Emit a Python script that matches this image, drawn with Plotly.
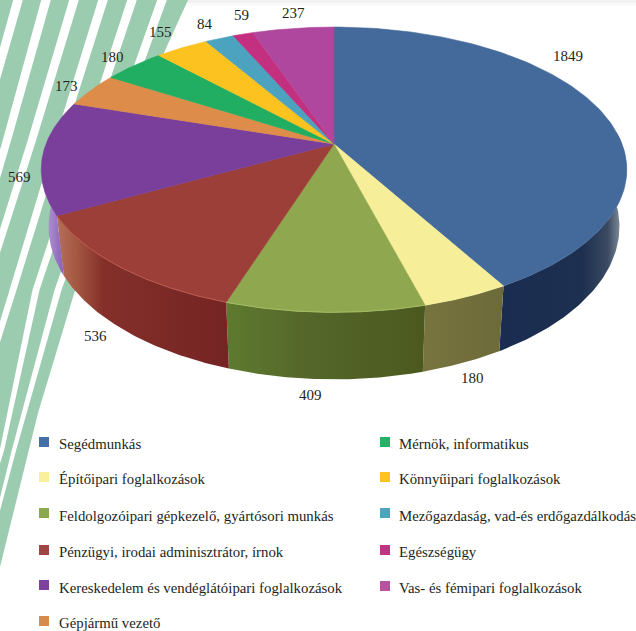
import numpy as np
import plotly.graph_objects as go

# values of the slices, clockwise from the top
categories = ["Segédmunkás", "Építőipari foglalkozások",
              "Feldolgozóipari gépkezelő, gyártósori munkás",
              "Pénzügyi, irodai adminisztrátor, írnok",
              "Kereskedelem és vendéglátóipari foglalkozások",
              "Gépjármű vezető", "Mérnök, informatikus",
              "Könnyűipari foglalkozások",
              "Mezőgazdaság, vad-és erdőgazdálkodás",
              "Egészségügy", "Vas- és fémipari foglalkozások"]
values = [1849, 180, 409, 536, 569, 173, 180, 155, 84, 59, 237]

top_colors = ["#44699b", "#f6ee98", "#8fa850", "#9c3f38", "#7a3f9b", "#dd8c4a",
              "#22ae62", "#fbc220", "#4ba3c0", "#c2307f", "#b0479e"]
legend_colors = ["#4470a6", "#f8f09a", "#8aa84e", "#a04444", "#7d429c", "#d68b4c",
                 "#25b266", "#fcc41f", "#4fa3bb", "#c03583", "#b3559f"]

# horizontal shading of the outer wall of the slices that face the viewer
wall_shades = {
    0: [[0, "#1a2c50"], [0.65, "#1e3050"], [0.85, "#3a4a62"], [0.95, "#7f8c98"], [1, "#c0c8cc"]],
    1: [[0, "#78743f"], [1, "#6d6a3a"]],
    2: [[0, "#5e7a2f"], [0.4, "#55672a"], [1, "#4b591f"]],
    3: [[0, "#b4705c"], [0.12, "#a45640"], [0.27, "#842f2a"], [1, "#742423"]],
    4: [[0, "#bba5da"], [0.5, "#a283c8"], [1, "#8b5eb8"]],
}
rim_colors = {2: "#a3bb62", 3: "#b9584c"}

# pie geometry in page pixels
CX, CY = 334, 144
RX, RY = 288, 138
PERSP = 0.18
WALL = 55
SHRINK = 0.975


def top_edge(deg):
    t = np.radians(deg)
    d = 1 + PERSP * np.cos(t)
    return CX + RX * np.sin(t) / d, CY - RY * np.cos(t) / d


def bottom_edge(deg):
    t = np.radians(deg)
    d = 1 + PERSP * np.cos(t)
    x, y = top_edge(deg)
    return CX + SHRINK * (x - CX), y + WALL / d


fig = go.Figure()

angles = np.cumsum([0] + values) / sum(values) * 360

# walls first, the top surface covers whatever is left over
for i, shade in wall_shades.items():
    a0 = max(angles[i], 85)
    a1 = min(angles[i + 1], 275)
    deg = np.linspace(a0, a1, 80)
    xt, yt = top_edge(deg)
    xb, yb = bottom_edge(deg)
    xs = np.concatenate([xt, xb[::-1]])
    ys = np.concatenate([yt, yb[::-1]])
    # the shade runs left to right on the page
    fig.add_trace(go.Scatter(x=xs, y=ys, mode="lines", fill="toself",
                             line=dict(width=0, color=shade[-1][1]),
                             fillgradient=dict(type="horizontal", colorscale=shade),
                             hoverinfo="skip", showlegend=False))

for i in range(len(values)):
    deg = np.linspace(angles[i], angles[i + 1], 120)
    xt, yt = top_edge(deg)
    fig.add_trace(go.Scatter(x=np.concatenate([[CX], xt, [CX]]),
                             y=np.concatenate([[CY], yt, [CY]]),
                             mode="lines", fill="toself", fillcolor=top_colors[i],
                             line=dict(width=0.6, color=top_colors[i]),
                             hoverinfo="skip", showlegend=False, name=categories[i]))

for i, c in rim_colors.items():
    deg = np.linspace(angles[i], angles[i + 1], 80)
    xt, yt = top_edge(deg)
    fig.add_trace(go.Scatter(x=xt, y=yt, mode="lines", line=dict(width=1, color=c),
                             hoverinfo="skip", showlegend=False))

# legend squares
legend_x = [44] * 6 + [385] * 5
legend_y = [442, 477, 513, 550, 585, 621, 442, 477, 513, 550, 586]
text_x = [56.5] * 6 + [396.5] * 5
text_y = [444, 479, 516, 552, 588, 623, 444, 479, 516, 552, 588]
fig.add_trace(go.Scatter(x=legend_x, y=legend_y, mode="markers",
                         marker=dict(symbol="square", size=10, color=legend_colors,
                                     line=dict(width=0)),
                         hoverinfo="skip", showlegend=False))

FONT = "Liberation Serif"
for name, x, y in zip(categories, text_x, text_y):
    fig.add_annotation(x=x, y=y, text=name, showarrow=False, xanchor="left", yanchor="middle",
                       font=dict(family=FONT, size=14.8, color="#231f20"))

# number labels
label_x = [568, 472, 310, 95, 19, 66, 112, 160, 205, 241, 293]
label_y = [56, 378, 395, 336, 177, 86, 57, 32, 24, 15, 13]
for v, x, y in zip(values, label_x, label_y):
    fig.add_annotation(x=x, y=y, text=str(v), showarrow=False,
                       font=dict(family=FONT, size=15, color="#231f20"))

# green stripes in the page background
edge_y = [0, 46, 160, 297, 413, 567]
edge_x = [188, 167, 118, 73, 38, 0]
path = "M0,0 " + " ".join(f"L{x},{y}" for x, y in zip(edge_x, edge_y)) + " Z"
shapes = [dict(type="rect", x0=0, x1=636, y0=0, y1=6, fillcolor="#fafafa", line_width=0, layer="below"),
          dict(type="rect", x0=0, x1=636, y0=0, y1=3, fillcolor="#f1f1f1", line_width=0, layer="below"),
          dict(type="path", path=path, fillcolor="#9bccb0", line_width=0, layer="below")]

gap_lines = [
    ([18, -6], [0, 85]),
    ([46, 7, -6], [0, 140, 185]),
    ([74, 32, -6], [0, 140, 260]),
    ([103, 46, 13, -4], [0, 182, 290, 345]),
    ([132, 36, 2, -4], [0, 290, 450, 470]),
    ([162, 58, 14, -4], [0, 290, 450, 520]),
]
for cx, cy in gap_lines:
    yy = np.array(cy, dtype=float)
    w = np.interp(yy, [0, 300, 450, 520], [9.5, 7, 4.5, 3])
    left = [f"{x - ww / 2:.1f},{y:.1f}" for x, y, ww in zip(cx, yy, w)]
    right = [f"{x + ww / 2:.1f},{y:.1f}" for x, y, ww in zip(cx, yy, w)][::-1]
    shapes.append(dict(type="path", path="M" + " L".join(left + right) + " Z",
                       fillcolor="white", line_width=0, layer="below"))

fig.update_layout(width=636, height=631, margin=dict(l=0, r=0, t=0, b=0),
                  paper_bgcolor="white", plot_bgcolor="rgba(0,0,0,0)",
                  showlegend=False, shapes=shapes,
                  xaxis=dict(visible=False, range=[0, 636], fixedrange=True),
                  yaxis=dict(visible=False, range=[631, 0], fixedrange=True))

fig.write_html("out.html", config={"displayModeBar": False},
               post_script="document.body.style.margin='0';")
